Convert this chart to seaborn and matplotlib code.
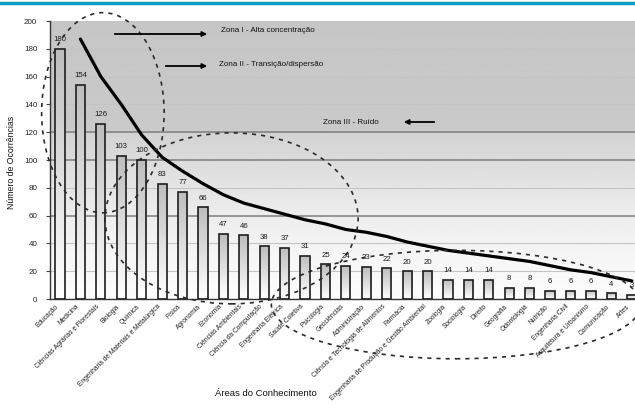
import numpy as np
import pandas as pd
import matplotlib
matplotlib.use("Agg")
import matplotlib.pyplot as plt
import matplotlib.transforms as mtransforms
from matplotlib.patches import Ellipse
from matplotlib.lines import Line2D
import seaborn as sns

# --- data -----------------------------------------------------------------
areas = [
    "Educação", "Medicina", "Ciências Agrárias e Florestais", "Biologia",
    "Química", "Engenharia de Materiais e Metalúrgica", "Física",
    "Agronomia", "Economia", "Ciências Ambientais",
    "Ciência da Computação", "Engenharia Elétrica", "Saúde Coletiva",
    "Psicologia", "Geociências", "Administração",
    "Ciência e Tecnologia de Alimentos", "Farmácia",
    "Engenharia de Produção e Gestão Ambiental", "Zoologia", "Sociologia",
    "Direito", "Geografia", "Odontologia", "Nutrição", "Engenharia Civil",
    "Arquitetura e Urbanismo", "Comunicação", "Artes",
]
ocorrencias = [180, 154, 126, 103, 100, 83, 77, 66, 47, 46, 38, 37, 31, 25,
               24, 23, 22, 20, 20, 14, 14, 14, 8, 8, 6, 6, 6, 4, 3]

# trend curve, read at bar positions 1..28
tendencia_pos = list(range(1, 29))
tendencia_val = [187, 160, 140, 118, 102, 92, 83, 75, 69, 65, 61, 57, 54, 50,
                 48, 45, 41, 38, 35, 33, 31, 29, 27, 24, 21, 19, 16, 13]

zonas = ["Zona I - Alta concentração", "Zona II - Transição/dispersão",
         "Zona III - Ruído"]
yticks = list(range(0, 201, 20))

# --- figure -----------------------------------------------------------------
sns.set_theme(style="white")
plt.rcParams["font.family"] = ["Liberation Sans", "DejaVu Sans"]

W, H = 635, 419
fig = plt.figure(figsize=(W / 100, H / 100), dpi=100)

def fx(px):
    return px / W

def fy(py):
    return 1 - py / H

left_px, right_px, top_px, bot_px = 49.8, 635.0, 21.0, 299.0
ax = fig.add_axes([fx(left_px), fy(bot_px), fx(right_px - left_px),
                   (bot_px - top_px) / H])

x0, x1 = -0.5, -0.5 + (right_px - left_px) / 20.42
ax.set_xlim(x0, x1)
ax.set_ylim(0, 200)

# plot-area background: grey at the top fading to white
grad_y = np.linspace(0, 200, 400)
shade = np.interp(grad_y, [0, 35, 60, 95, 105, 118, 122, 200],
                  [0.99, 0.96, 0.93, 0.87, 0.85, 0.83, 0.79, 0.775])
ax.imshow(shade[:, None], cmap="gray", vmin=0, vmax=1, aspect="auto",
          extent=(x0, x1, 0, 200), origin="lower", zorder=0,
          interpolation="bilinear")

# gridlines
for v in yticks[1:]:
    strong = v in (60, 100, 120)
    ax.axhline(v, color="#7d7d7d" if strong else "#c4c4c4",
               lw=1.1 if strong else 0.8, zorder=1)

df = pd.DataFrame({"area": areas, "n": ocorrencias})
sns.barplot(data=df, x="area", y="n", ax=ax, width=0.45, color="white",
            edgecolor="#1e1e1e", linewidth=1.2, zorder=2)

# gradient fill inside each bar
bar_grad = np.linspace(1.0, 0.74, 64)[:, None]
for patch in ax.patches:
    bx, by = patch.get_x(), patch.get_y()
    bw, bh = patch.get_width(), patch.get_height()
    im = ax.imshow(bar_grad, cmap="gray", vmin=0, vmax=1, aspect="auto",
                   extent=(bx, bx + bw, by, by + bh), origin="lower",
                   zorder=2.5, interpolation="bilinear")
    im.set_clip_path(patch)
    patch.set_zorder(3)
    patch.set_facecolor("none")
ax.set_xlim(x0, x1)
ax.set_ylim(0, 200)

# value labels
for i, v in enumerate(ocorrencias):
    ax.text(i, v + 4, f"{v}", ha="center", va="bottom", fontsize=5.6,
            color="#1a1a1a", zorder=4)

# trend curve
sns.lineplot(x=tendencia_pos, y=tendencia_val, ax=ax, color="black",
             lw=2.3, zorder=5)

# dotted zone ellipses
ell_style = dict(fill=False, ec="#2a2a2a", lw=1.2, ls=(0, (2.5, 3)),
                 clip_on=False, zorder=6)
for cx, cy, w, h in [(2.1, 134, 6.0, 144), (8.4, 58, 12.4, 123),
                     (19.4, -4, 18.1, 78)]:
    ax.add_patch(Ellipse((cx, cy), w, h, **ell_style))

# axes styling
ax.set_yticks(yticks)
ax.set_yticklabels([str(t) for t in yticks], fontsize=5.8, color="#222222")
ax.tick_params(axis="y", length=3, width=0.8, color="#444444", pad=6,
               direction="out", left=True)
ax.set_xticks(range(len(areas)))
ax.set_xticklabels(areas, rotation=45, ha="right", rotation_mode="anchor",
                   fontsize=4.8, color="#222222")
ax.tick_params(axis="x", length=0, pad=3)
shift = mtransforms.ScaledTranslation(-5 / 100, 0, fig.dpi_scale_trans)
for lbl in ax.get_xticklabels():
    lbl.set_transform(lbl.get_transform() + shift)
ax.set_xlabel("")
ax.set_ylabel("")
for side in ("top", "right"):
    ax.spines[side].set_visible(False)
for side in ("left", "bottom"):
    ax.spines[side].set_color("#333333")
    ax.spines[side].set_linewidth(1.0)

fig.text(fx(12), fy(162), "Número de Ocorrências", rotation=90,
         ha="center", va="center", fontsize=6.3, color="#111111")
fig.text(fx(266), fy(393), "Áreas do Conhecimento", ha="center",
         va="center", fontsize=6.8, color="#111111")

# zone annotations
arrow = dict(arrowstyle="-|>", color="black", lw=1.3, mutation_scale=7)
fig.add_artist(plt.Annotation("", xy=(fx(210), fy(34)), xytext=(fx(112), fy(34)),
                              xycoords="figure fraction", arrowprops=arrow))
fig.add_artist(plt.Annotation("", xy=(fx(210), fy(66)), xytext=(fx(163), fy(66)),
                              xycoords="figure fraction", arrowprops=arrow))
fig.add_artist(plt.Annotation("", xy=(fx(401), fy(122)), xytext=(fx(437), fy(122)),
                              xycoords="figure fraction", arrowprops=arrow))
fig.text(fx(221), fy(31), zonas[0], fontsize=5.8, va="center", color="#111111")
fig.text(fx(219), fy(64), zonas[1], fontsize=5.8, va="center", color="#111111")
fig.text(fx(323), fy(123), zonas[2], fontsize=5.8, va="center", color="#111111")

# header rule
fig.add_artist(Line2D([0, 1], [fy(3), fy(3)], color="#0a9ec6", lw=2.5))

fig.savefig("out.png", dpi=100)
